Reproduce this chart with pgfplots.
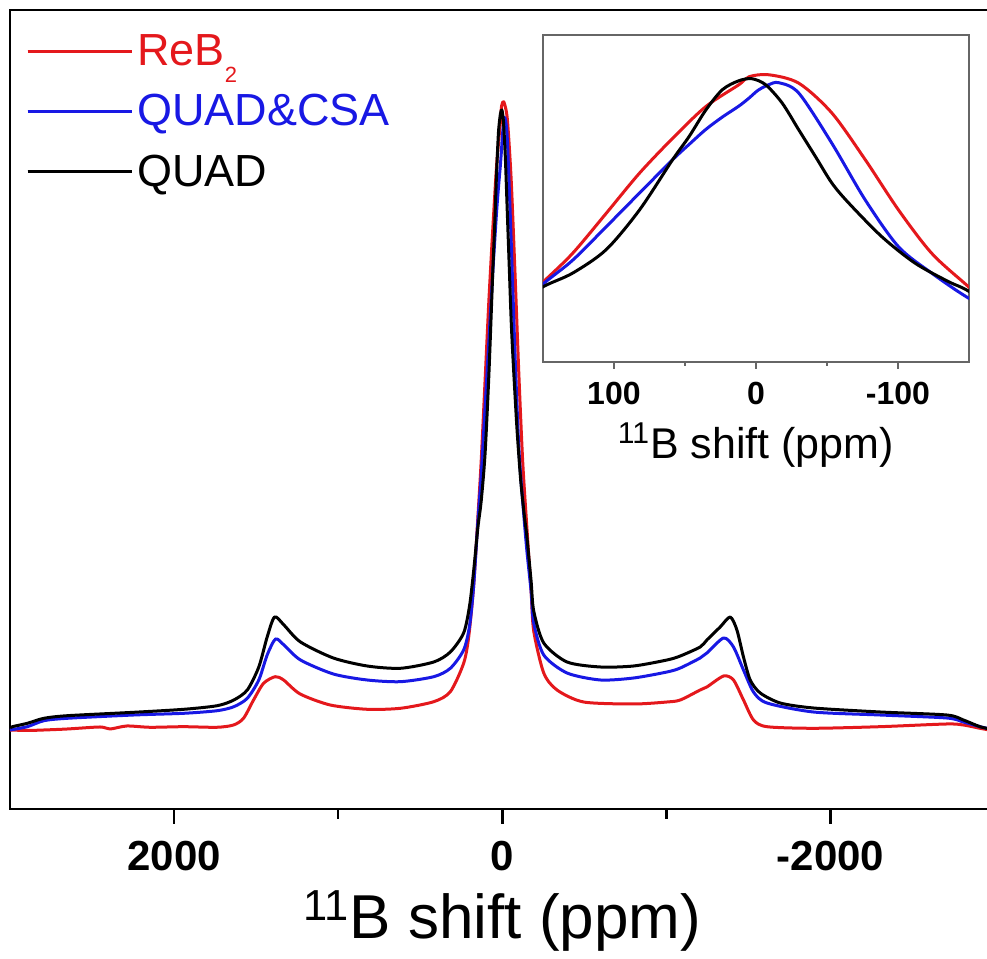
\documentclass[border=0pt]{standalone}
\usepackage{fontspec}
\setmainfont{Liberation Sans}
\usepackage{pgfplots}
\usepackage{pgfplotstable}
\pgfplotsset{compat=1.18}
\definecolor{cred}{RGB}{228,24,28}
\definecolor{cblue}{RGB}{24,24,228}

\pgfplotstableread{
ppm I
3000 1
2894 0.5
2793 1
2650 2
2451 4
2390 2
2288 5
2146 3.7
1943 4.3
1740 3.7
1638 6
1577 12.7
1516 31
1455 47.7
1384 54.3
1333 51
1232 37
1049 26
824 21.7
621 22.7
418 29.3
317 39.3
236 67.7
205 94.3
175 145
149.5 213
129 270
105.5 350
82 431
58.7 501
35.3 565
12 609
4.9 625
-9 629
-30.2 612
-53.5 552
-77 458
-100.4 357
-123.7 270
-148.3 206
-175 140
-191 100
-252 58
-333 41
-495 29
-800 27
-1003 29
-1084 31
-1205 41
-1246 44
-1348 55
-1408 51
-1469 31
-1530 11
-1612 4.3
-1895 2.7
-2301 4.3
-2707 7
-2809 6
-2910 2.7
-3000 0
}\reddata

\pgfplotstableread{
ppm I
3000 1
2894 4.3
2793 10.3
2650 12.7
2245 16
1940 17.7
1737 20.3
1636 24.3
1554 32.7
1484 51
1433 76
1382 92
1331 86
1230 71
1030 57
824 51
621 49.3
418 54.3
317 62.7
236 81
200 105
175 145
149.5 209
129 256
105.5 323
82 391
58.7 458
47 489
35.3 519
23.6 544
12 566
4.9 582
-1.6 598
-9 609
-16.1 613
-30.2 592
-53.5 491
-77 377
-100.4 283
-123.7 230
-148.3 182
-175 140
-191 108
-252 76
-394 58
-597 51
-800 53
-1003 59
-1084 63
-1205 73
-1246 78
-1348 93
-1408 84
-1469 61
-1530 39
-1612 28
-1895 19
-2301 16
-2707 13
-2809 9
-2910 4.3
-3000 1
}\bluedata

\pgfplotstableread{
ppm I
3000 3
2985 4.3
2894 7.7
2793 12.7
2650 15.3
2245 18.7
1940 21.7
1737 25.3
1636 31
1554 41
1484 64
1433 94
1388 114
1331 106
1230 89
1030 73
824 65
621 62.7
418 69
317 79
236 98
200 125
175 160
149.5 203
129 230
105.5 277
82 357
58.7 458
47 505
35.3 558
23.6 599
12 617
2.8 621
-6.8 609
-18.5 572
-30.2 518
-42 464
-53.5 411
-65.3 371
-88.7 303
-112 250
-135.4 213
-148.3 196
-175 150
-191 120
-252 88
-394 69
-597 64
-800 65
-1003 71
-1084 75
-1205 84
-1246 91
-1327 104
-1388 114
-1429 101
-1469 74
-1510 51
-1571 38
-1693 28
-1895 23
-2301 19
-2707 16
-2809 11
-2910 4.3
-3000 1
}\blackdata

\begin{document}
\begin{tikzpicture}
\begin{axis}[
  scale only axis,
  width=492.4pt, height=399.5pt,
  x dir=reverse,
  xmin=-3000, xmax=3000,
  ymin=-78, ymax=721,
  xtick={-2000,0,2000},
  minor xtick={-1000,1000},
  ytick=\empty,
  tick pos=left,
  tick align=outside,
  major tick length=7.5pt,
  minor tick length=5pt,
  every tick/.style={black, line width=1.2pt},
  axis line style={line width=1.3pt},
  /pgf/number format/assume math mode=true,
  /pgf/number format/1000 sep={},
  xticklabel style={font=\fontsize{21}{21}\selectfont\bfseries, yshift=-5pt},
  xlabel={\textsuperscript{11}B shift (ppm)},
  xlabel style={font=\fontsize{31}{31}\selectfont, yshift=-3pt},
  legend style={at={(rel axis cs:0.0161,0.975)}, anchor=north west, draw=none, fill=none,
    font=\fontsize{22.5}{26}\selectfont, inner sep=0pt, row sep=9pt},
  legend cell align=left,
  legend image code/.code={\draw[#1, line width=1.5pt] (0pt,0pt) -- (50pt,0pt); \path (0pt,0pt) -- (52pt,0pt);},
  every axis plot/.append style={line width=1.5pt, line join=round, smooth, tension=0.45},
]
\addplot[cred] table[x=ppm, y=I] {\reddata};
\addlegendentry{\textcolor{cred}{ReB\raisebox{-8.5pt}{\fontsize{11}{11}\selectfont 2}}}
\addplot[cblue] table[x=ppm, y=I] {\bluedata};
\addlegendentry{\textcolor{cblue}{QUAD\&CSA}}
\addplot[black] table[x=ppm, y=I] {\blackdata};
\addlegendentry{QUAD}
\coordinate (insetSW) at (rel axis cs:0.54125,0.55945);
\coordinate (bbSW) at (rel axis cs:-0.01015,-0.18773);
\coordinate (bbNE) at (rel axis cs:0.99213,1.01252);
\end{axis}
\begin{axis}[
  at={(insetSW)}, anchor=south west,
  scale only axis,
  width=213pt, height=163.5pt,
  x dir=reverse,
  xmin=-150, xmax=150,
  ymin=51, ymax=709,
  xtick={-100,0,100},
  minor xtick={-50,50},
  ytick=\empty,
  tick pos=left,
  tick align=outside,
  major tick length=3.5pt,
  minor tick length=2pt,
  every tick/.style={black!60, line width=0.8pt},
  axis line style={black!60, line width=0.8pt},
  /pgf/number format/assume math mode=true,
  xticklabel style={font=\fontsize{16}{16}\selectfont\bfseries, yshift=-3pt},
  xlabel={\textsuperscript{11}B shift (ppm)},
  xlabel style={font=\fontsize{21.5}{21.5}\selectfont, yshift=-2pt},
  every axis plot/.append style={line width=1.5pt, line join=round, smooth},
]
\addplot[cred] table[x=ppm, y=I] {\reddata};
\addplot[cblue] table[x=ppm, y=I] {\bluedata};
\addplot[black] table[x=ppm, y=I] {\blackdata};
\end{axis}
\pgfresetboundingbox
\useasboundingbox (bbSW) rectangle (bbNE);
\end{tikzpicture}
\end{document}
